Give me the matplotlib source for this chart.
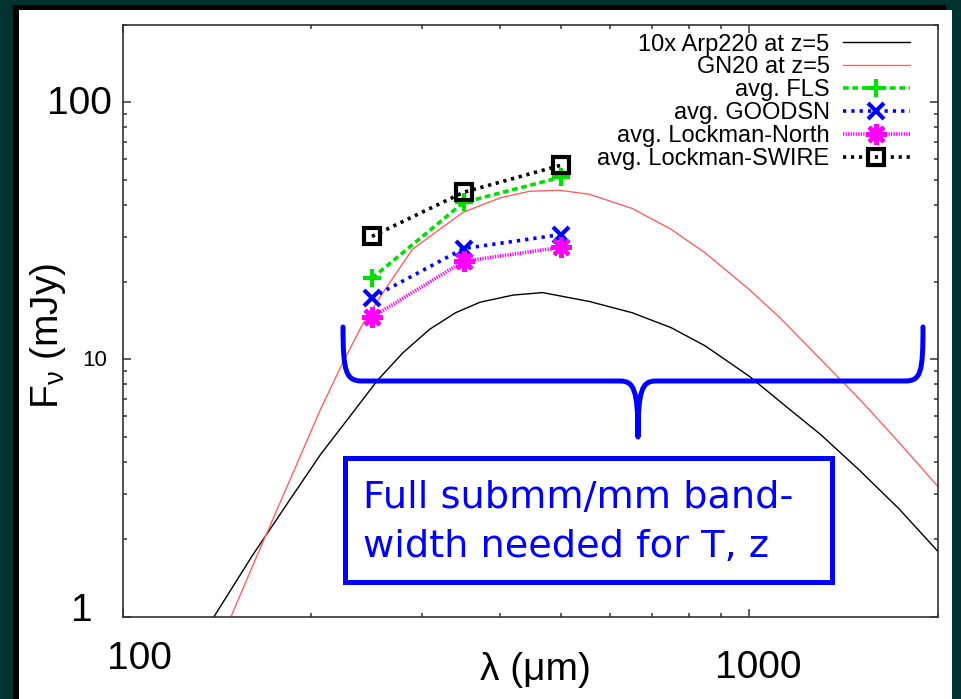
import numpy as np
import matplotlib
matplotlib.use('Agg')
import matplotlib.pyplot as plt
from matplotlib.patches import Rectangle, PathPatch
from matplotlib.path import Path
from matplotlib.ticker import LogLocator, NullFormatter

plt.rcParams['font.family'] = ['Liberation Sans', 'DejaVu Sans']
plt.rcParams['mathtext.fontset'] = 'custom'
plt.rcParams['mathtext.rm'] = 'Liberation Sans'
plt.rcParams['mathtext.it'] = 'Liberation Sans'

W, H = 961, 699

# model SEDs: observed wavelength (micron) and flux density (mJy)
arp220_wl = [140, 161, 185, 207, 230, 255, 280, 309, 340, 372, 420, 468, 556,
             650, 750, 850, 1000, 1150, 1300, 1500, 1734, 2000]
arp220_f = [1.0, 1.72, 2.85, 4.27, 5.96, 8.28, 10.6, 13.1, 15.2, 16.7, 17.8, 18.2, 16.8,
            15.2, 13.3, 11.3, 8.6, 6.5, 5.1, 3.7, 2.62, 1.79]

gn20_wl = [149, 163, 185, 207, 225, 242, 258, 290, 349, 400, 446, 498, 556,
           650, 750, 850, 1000, 1120, 1300, 1500, 1734, 2000]
gn20_f = [1.0, 1.67, 3.4, 6.4, 9.8, 13.8, 17.6, 26.8, 37.3, 42.5, 45.1, 45.5, 43.9,
          38.7, 32.1, 26.0, 18.7, 14.5, 10.0, 7.0, 4.75, 3.2]

# stacked SPIRE fluxes
spire_wl = [250, 350, 500]
fls = [20.7, 40.8, 51.1]
goodsn = [17.4, 27.0, 30.6]
lockman_north = [14.6, 24.1, 27.3]
lockman_swire = [30.1, 44.7, 56.9]


def fx(x):
    return x / W


def fy(y):
    return 1 - y / H


fig = plt.figure(figsize=(W / 100, H / 100), dpi=100)
fig.patch.set_facecolor('#00332f')
fig.add_artist(Rectangle((fx(13), 0), fx(933), fy(5), facecolor='black',
                         edgecolor='none', transform=fig.transFigure, zorder=-2))
fig.add_artist(Rectangle((fx(19), 0), fx(933), fy(10), facecolor='white',
                         edgecolor='none', transform=fig.transFigure, zorder=-1))

ax = fig.add_axes([fx(122.5), fy(616.5), fx(938 - 122.5), (616.5 - 25) / H])
ax.set_xscale('log')
ax.set_yscale('log')

ax.plot(arp220_wl, arp220_f, color='black', lw=1.0, label='10x Arp220 at z=5')
ax.plot(gn20_wl, gn20_f, color='#ff6060', lw=1.0, label='GN20 at z=5')
ax.plot(spire_wl, fls, color='#00e000', lw=2.6, ls=(0, (1.6, 1.0)),
        marker='+', ms=13, mew=3, label='avg. FLS')
ax.plot(spire_wl, goodsn, color='#0000ff', lw=2.6, ls=(0, (0.9, 1.4)),
        marker='x', ms=12, mew=3, label='avg. GOODSN')
ax.plot(spire_wl, lockman_north, color='#ff00ff', lw=2.6, ls=(0, (0.35, 0.35)),
        marker=(8, 2, 0), ms=15, mew=3, label='avg. Lockman-North')
ax.plot(spire_wl, lockman_swire, color='black', lw=2.6, ls=(0, (0.9, 1.3)),
        marker='s', ms=12, mew=3, mfc='none', label='avg. Lockman-SWIRE')

ax.set_xlim(100, 2000)
ax.set_ylim(1, 200)
ax.xaxis.set_major_locator(LogLocator(base=10, numticks=10))
ax.xaxis.set_minor_locator(LogLocator(base=10, subs=np.arange(2, 10), numticks=10))
ax.yaxis.set_major_locator(LogLocator(base=10, numticks=10))
ax.yaxis.set_minor_locator(LogLocator(base=10, subs=np.arange(2, 10), numticks=10))
for axis in (ax.xaxis, ax.yaxis):
    axis.set_major_formatter(NullFormatter())
    axis.set_minor_formatter(NullFormatter())
ax.tick_params(which='both', direction='in', top=True, right=True,
               color='#333333', width=1.1)
ax.tick_params(which='major', length=6)
ax.tick_params(which='minor', length=3)
for sp in ax.spines.values():
    sp.set_color('#333333')
    sp.set_linewidth(1.2)

ax.legend(loc='upper right', bbox_to_anchor=(fx(910), fy(33.5)),
          bbox_transform=fig.transFigure, markerfirst=False, frameon=False,
          fontsize=17, handlelength=2.85, handletextpad=0.55,
          labelspacing=0.04, borderpad=0, borderaxespad=0, numpoints=1)

# axis labels and tick numbers
big = dict(fontsize=28, color='black', ha='center', va='center')
fig.text(fx(79), fy(104), '100', **big)
fig.text(fx(82), fy(611), '1', **big)
fig.text(fx(139), fy(659), '100', **big)
fig.text(fx(758), fy(668), '1000', **big)
fig.text(fx(95), fy(360), '10', fontsize=16, ha='center', va='center')
fig.text(fx(535), fy(670), 'λ (μm)', **big)
fig.text(fx(48), fy(336), r'F$_{\nu}$ (mJy)', rotation=90, **big)

# curly brace spanning the submm/mm range
P = Path
brace = [(343, 327), (343, 372), (346, 381), (362, 381),
         (620, 381),
         (634, 381), (638, 390), (638, 437),
         (638, 390), (642, 381), (656, 381),
         (905, 381),
         (921, 381), (923, 372), (923, 327)]
codes = ([P.MOVETO] + [P.CURVE4] * 3 + [P.LINETO] + [P.CURVE4] * 6
         + [P.LINETO] + [P.CURVE4] * 3)
brace_path = Path([(fx(x), fy(y)) for x, y in brace], codes)
fig.add_artist(PathPatch(brace_path, facecolor='none', edgecolor='#0000ff',
                         lw=3.6, capstyle='round', joinstyle='round',
                         transform=fig.transFigure))

fig.add_artist(Rectangle((fx(345), fy(582)), fx(832 - 345), (582 - 458) / H,
                         facecolor='white', edgecolor='#0000ff', lw=3.6,
                         transform=fig.transFigure))
note = dict(fontsize=27.5, color='#0000ff', ha='left', va='baseline',
            family='DejaVu Sans')
fig.text(fx(363), fy(508), 'Full submm/mm band-', **note)
fig.text(fx(363), fy(557), 'width needed for T, z', **note)

fig.savefig('out.png', dpi=100, facecolor=fig.get_facecolor())
